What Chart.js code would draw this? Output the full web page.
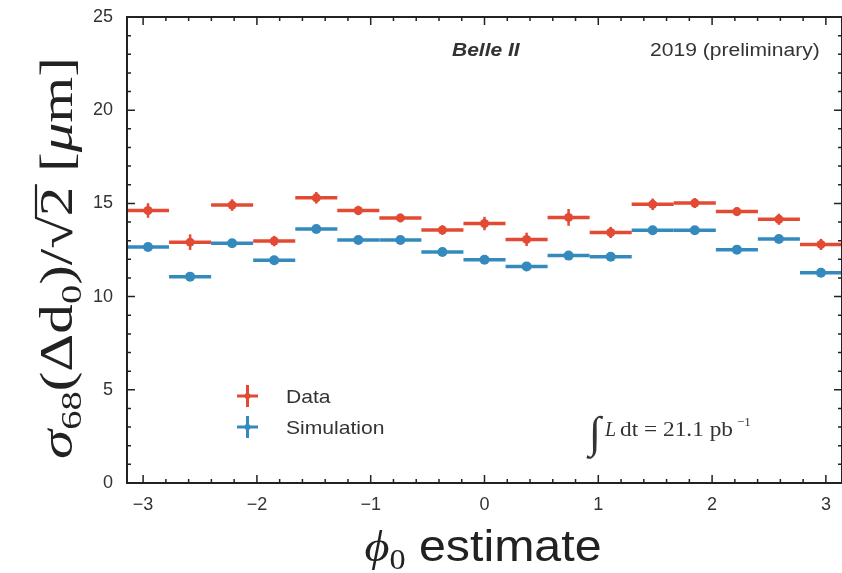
<!DOCTYPE html>
<html>
<head>
<meta charset="utf-8">
<script src="https://cdn.jsdelivr.net/npm/chart.js@4.4.1/dist/chart.umd.min.js"></script>
<style>
  html, body { margin: 0; padding: 0; background: #fff; }
  #c { display: block; }
</style>
</head>
<body>
<canvas id="c" width="842" height="573"></canvas>
<script>
// phi0 bins (17 bins over -pi..pi)
var binCenters = [-2.957, -2.587, -2.218, -1.848, -1.478, -1.109, -0.739, -0.370, 0.000,
                  0.370, 0.739, 1.109, 1.478, 1.848, 2.218, 2.587, 2.957];
var binHalfWidth = 0.1848;

var dataVals = [14.62, 12.92, 14.91, 12.98, 15.30, 14.62, 14.22, 13.57, 13.92,
                13.07, 14.25, 13.44, 14.95, 15.02, 14.56, 14.15, 12.80];
var dataErr  = [0.39, 0.42, 0.31, 0.28, 0.31, 0.25, 0.23, 0.25, 0.36,
                0.36, 0.45, 0.30, 0.31, 0.27, 0.24, 0.30, 0.30];
var simVals  = [12.66, 11.07, 12.86, 11.95, 13.63, 13.04, 13.04, 12.39, 11.98,
                11.62, 12.20, 12.14, 13.56, 13.56, 12.52, 13.09, 11.28];
var simErr   = [0.12, 0.12, 0.12, 0.12, 0.12, 0.12, 0.12, 0.12, 0.12,
                0.12, 0.12, 0.12, 0.12, 0.12, 0.12, 0.12, 0.12];

var xTicks = [-3, -2, -1, 0, 1, 2, 3];
var yTicks = [0, 5, 10, 15, 20, 25];

var RED = '#E24A33';
var BLUE = '#348ABD';
var INK = '#222';
var SANS = '"Liberation Sans", Arial, sans-serif';
var SERIF = '"Liberation Serif", "DejaVu Serif", serif';

function pts(vals) {
  return vals.map(function (v, i) { return { x: binCenters[i], y: v }; });
}

// row of text pieces (sub/superscripts), centred on x and stretched to `span` px
function drawRuns(ctx, runs, x, y, span) {
  var total = 0;
  runs.forEach(function (r) { ctx.font = r.font; r.w = ctx.measureText(r.t).width; total += r.w; });
  var k = span ? span / total : 1;
  ctx.save();
  ctx.translate(x - total * k / 2, y);
  ctx.scale(k, 1);
  var cx = 0;
  runs.forEach(function (r) {
    ctx.font = r.font;
    ctx.fillText(r.t, cx, r.dy || 0);
    if (r.over) {
      ctx.lineWidth = r.over.lw;
      ctx.beginPath();
      ctx.moveTo(cx - 2, -r.over.h);
      ctx.lineTo(cx + r.w + 2, -r.over.h);
      ctx.stroke();
    }
    cx += r.w;
  });
  ctx.restore();
}

// plain text with a little horizontal stretch
function wideText(ctx, s, x, y, font, k) {
  ctx.save();
  ctx.font = font;
  ctx.translate(x, y);
  ctx.scale(k, 1);
  ctx.fillText(s, 0, 0);
  ctx.restore();
}

var decor = {
  id: 'decor',
  beforeDatasetsDraw: function (chart) {
    var ctx = chart.ctx, xs = chart.scales.x, ys = chart.scales.y;
    var sets = [[simVals, simErr, BLUE], [dataVals, dataErr, RED]];
    ctx.save();
    ctx.lineCap = 'butt';
    sets.forEach(function (s) {
      ctx.strokeStyle = s[2];
      s[0].forEach(function (v, i) {
        var c = binCenters[i];
        var py = ys.getPixelForValue(v);
        ctx.lineWidth = 3.5;
        ctx.beginPath();
        ctx.moveTo(xs.getPixelForValue(c - binHalfWidth), py);
        ctx.lineTo(xs.getPixelForValue(c + binHalfWidth), py);
        ctx.stroke();
        ctx.lineWidth = 2.5;
        ctx.beginPath();
        ctx.moveTo(xs.getPixelForValue(c), ys.getPixelForValue(v - s[1][i]));
        ctx.lineTo(xs.getPixelForValue(c), ys.getPixelForValue(v + s[1][i]));
        ctx.stroke();
      });
    });
    ctx.restore();
  },
  afterDraw: function (chart) {
    var ctx = chart.ctx, a = chart.chartArea, xs = chart.scales.x, ys = chart.scales.y;
    ctx.save();
    // frame
    ctx.strokeStyle = INK;
    ctx.lineWidth = 2;
    ctx.strokeRect(a.left, a.top, a.right - a.left, a.bottom - a.top);
    // inward ticks on all four sides
    ctx.lineWidth = 1.5;
    ctx.beginPath();
    for (var t = -3.0; t <= 3.11; t += 0.2) {
      var major = Math.abs(t - Math.round(t)) < 1e-6;
      var L = major ? 8 : 4;
      var px = xs.getPixelForValue(t);
      ctx.moveTo(px, a.bottom); ctx.lineTo(px, a.bottom - L);
      ctx.moveTo(px, a.top); ctx.lineTo(px, a.top + L);
    }
    for (var u = 1; u < 25; u++) {
      var Ly = (u % 5 === 0) ? 8 : 4;
      var py = ys.getPixelForValue(u);
      ctx.moveTo(a.left, py); ctx.lineTo(a.left + Ly, py);
      ctx.moveTo(a.right, py); ctx.lineTo(a.right - Ly, py);
    }
    ctx.stroke();

    ctx.fillStyle = INK;
    ctx.strokeStyle = INK;
    ctx.textBaseline = 'alphabetic';
    ctx.textAlign = 'left';

    // y axis title, rotated
    ctx.save();
    ctx.translate(72, 258);
    ctx.rotate(-Math.PI / 2);
    var S = 46, sub = 30;
    drawRuns(ctx, [
      { t: 'σ', font: 'italic ' + S + 'px ' + SERIF },
      { t: '68', font: sub + 'px ' + SERIF, dy: 9 },
      { t: '(Δd', font: S + 'px ' + SERIF },
      { t: '0', font: sub + 'px ' + SERIF, dy: 9 },
      { t: ')/√', font: S + 'px ' + SERIF },
      { t: '2', font: S + 'px ' + SERIF, over: { h: 36, lw: 2.2 } },
      { t: ' [', font: S + 'px ' + SERIF },
      { t: 'μ', font: 'italic ' + S + 'px ' + SERIF },
      { t: 'm]', font: S + 'px ' + SERIF }
    ], 0, 0, 402);
    ctx.restore();

    // x axis title
    drawRuns(ctx, [
      { t: 'ϕ', font: 'italic 45px ' + SERIF },
      { t: '0', font: '30px ' + SERIF, dy: 8 },
      { t: ' estimate', font: '45px ' + SANS }
    ], 483, 561, 237);

    // annotations
    ctx.fillStyle = '#333';
    wideText(ctx, 'Belle II', 452, 56, 'italic bold 17.5px ' + SANS, 1.2);
    wideText(ctx, '2019 (preliminary)', 650, 56, '18px ' + SANS, 1.17);

    // integrated luminosity
    ctx.font = '44px ' + SERIF;
    ctx.fillText('∫', 589, 447);
    ctx.font = 'italic 20px ' + SERIF;
    ctx.fillText('L', 605, 436);
    ctx.font = '20px ' + SERIF;
    var lumi = 'dt = 21.1 pb';
    var lw = ctx.measureText(lumi).width;
    ctx.save();
    ctx.translate(620, 436);
    ctx.scale(113 / lw, 1);
    ctx.fillText(lumi, 0, 0);
    ctx.restore();
    ctx.font = '13px ' + SERIF;
    ctx.fillText('−1', 737, 426);

    // legend
    var legend = [[RED, 'Data', 396], [BLUE, 'Simulation', 427]];
    legend.forEach(function (l) {
      ctx.strokeStyle = l[0];
      ctx.lineWidth = 3;
      ctx.beginPath();
      ctx.moveTo(237, l[2]); ctx.lineTo(258, l[2]);
      ctx.moveTo(247.5, l[2] - 11); ctx.lineTo(247.5, l[2] + 11);
      ctx.stroke();
      ctx.fillStyle = l[0];
      ctx.beginPath(); ctx.arc(247.5, l[2], 3, 0, Math.PI * 2); ctx.fill();
      ctx.fillStyle = '#333';
      wideText(ctx, l[1], 286, l[2] + 7, '18.5px ' + SANS, 1.14);
    });
    ctx.restore();
  }
};

new Chart(document.getElementById('c').getContext('2d'), {
  type: 'scatter',
  data: {
    datasets: [
      { label: 'Simulation', data: pts(simVals), backgroundColor: BLUE, borderColor: BLUE,
        pointRadius: 5, pointHoverRadius: 5, borderWidth: 0 },
      { label: 'Data', data: pts(dataVals), backgroundColor: RED, borderColor: RED,
        pointRadius: 4.5, pointHoverRadius: 4.5, borderWidth: 0 }
    ]
  },
  options: {
    responsive: false,
    animation: false,
    devicePixelRatio: 1,
    layout: { autoPadding: false, padding: { top: 17, right: 0, left: 0, bottom: 0 } },
    plugins: { legend: { display: false }, tooltip: { enabled: false } },
    scales: {
      x: {
        type: 'linear', min: -Math.PI, max: Math.PI,
        afterBuildTicks: function (s) { s.ticks = xTicks.map(function (v) { return { value: v }; }); },
        afterFit: function (s) { s.height = 90; s.paddingLeft = 0; s.paddingRight = 0; },
        grid: { display: false }, border: { display: false },
        ticks: {
          padding: 3, color: '#333', maxRotation: 0,
          font: { family: SANS, size: 18 },
          callback: function (v) { return String(v).replace('-', '−'); }
        }
      },
      y: {
        min: 0, max: 25,
        afterBuildTicks: function (s) { s.ticks = yTicks.map(function (v) { return { value: v }; }); },
        afterFit: function (s) { s.width = 127; s.paddingTop = 0; s.paddingBottom = 0; },
        grid: { display: false }, border: { display: false },
        ticks: {
          padding: 6, color: '#333',
          font: { family: SANS, size: 18 }
        }
      }
    }
  },
  plugins: [decor]
});
</script>
</body>
</html>
